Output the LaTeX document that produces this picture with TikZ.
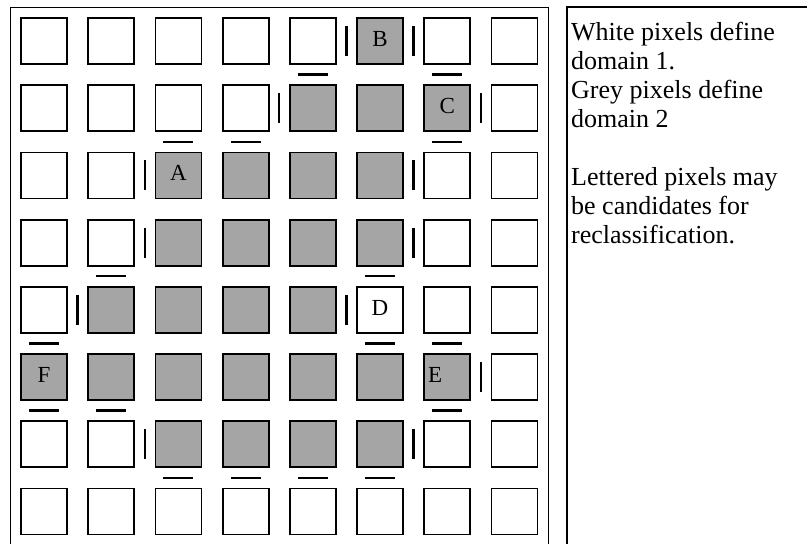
\documentclass[tikz,border=0pt]{standalone}
\usepackage{fontspec}
\setmainfont{Liberation Serif}
\usetikzlibrary{calc}
\definecolor{domaingrey}{RGB}{165,165,165}

\begin{document}
\begin{tikzpicture}[x=1pt,y=-1pt,
  pixel/.style={draw=black,line width=1.8pt,minimum size=46pt,inner sep=0pt},
  boundary/.style={line width=2.4pt},
  tag/.style={font=\fontsize{23}{23}\selectfont,inner sep=0pt}]
  \useasboundingbox (0,0) rectangle (807,544);
  \draw[line width=1pt] (10,544) -- (10,7) -- (548,7) -- (548,544);
  \foreach \r/\code in {1/{0,0,0,0,0,1,0,0},2/{0,0,0,0,1,1,1,0},
    3/{0,0,1,1,1,1,0,0},4/{0,0,1,1,1,1,0,0},5/{0,1,1,1,1,0,0,0},
    6/{1,1,1,1,1,1,1,0},7/{0,0,1,1,1,1,0,0},8/{0,0,0,0,0,0,0,0}}
    \foreach \c in {1,...,8} {
      \pgfmathtruncatemacro\isgrey{{\code}[\c-1]}
      \ifnum\isgrey=1 \def\pixfill{domaingrey}\else\def\pixfill{white}\fi
      \node[pixel,fill=\pixfill] (p\r\c) at ({44+67.2*(\c-1)},{41+67.2*(\r-1)}) {};
    }
  \foreach \tagname/\pix/\dx in {A/33/0,B/16/0,C/27/0,D/56/0,E/67/-12,F/61/0}
    \node[tag] (tag\tagname) at ([xshift=\dx pt,yshift=2pt]p\pix.center) {\tagname};
  \foreach \r/\c in {1/5,1/6,2/4,2/7,3/2,3/6,4/2,4/6,5/1,5/5,6/7,7/2,7/6} {
    \pgfmathtruncatemacro\cn{\c+1}
    \draw[boundary] ($(p\r\c.east)!.5!(p\r\cn.west)$) +(0,-15) -- +(0,15);
  }
  \foreach \r/\c in {1/5,1/7,2/3,2/4,2/7,4/2,4/6,5/1,5/6,5/7,6/1,6/2,6/7,
    7/3,7/4,7/5,7/6} {
    \pgfmathtruncatemacro\rn{\r+1}
    \draw[boundary] ($(p\r\c.south)!.5!(p\rn\c.north)$) +(-15,0) -- +(15,0);
  }
  \draw[line width=2pt] (567,544) -- (567,7) -- (807,7);
  \node[anchor=north west,inner sep=0pt,align=left,
    font=\fontsize{26}{29}\selectfont] (legend) at (571,22)
    {White pixels define\\domain 1.\\Grey pixels define\\domain 2\\[29pt]
     Lettered pixels may\\be candidates for\\reclassification.};
\end{tikzpicture}
\end{document}
